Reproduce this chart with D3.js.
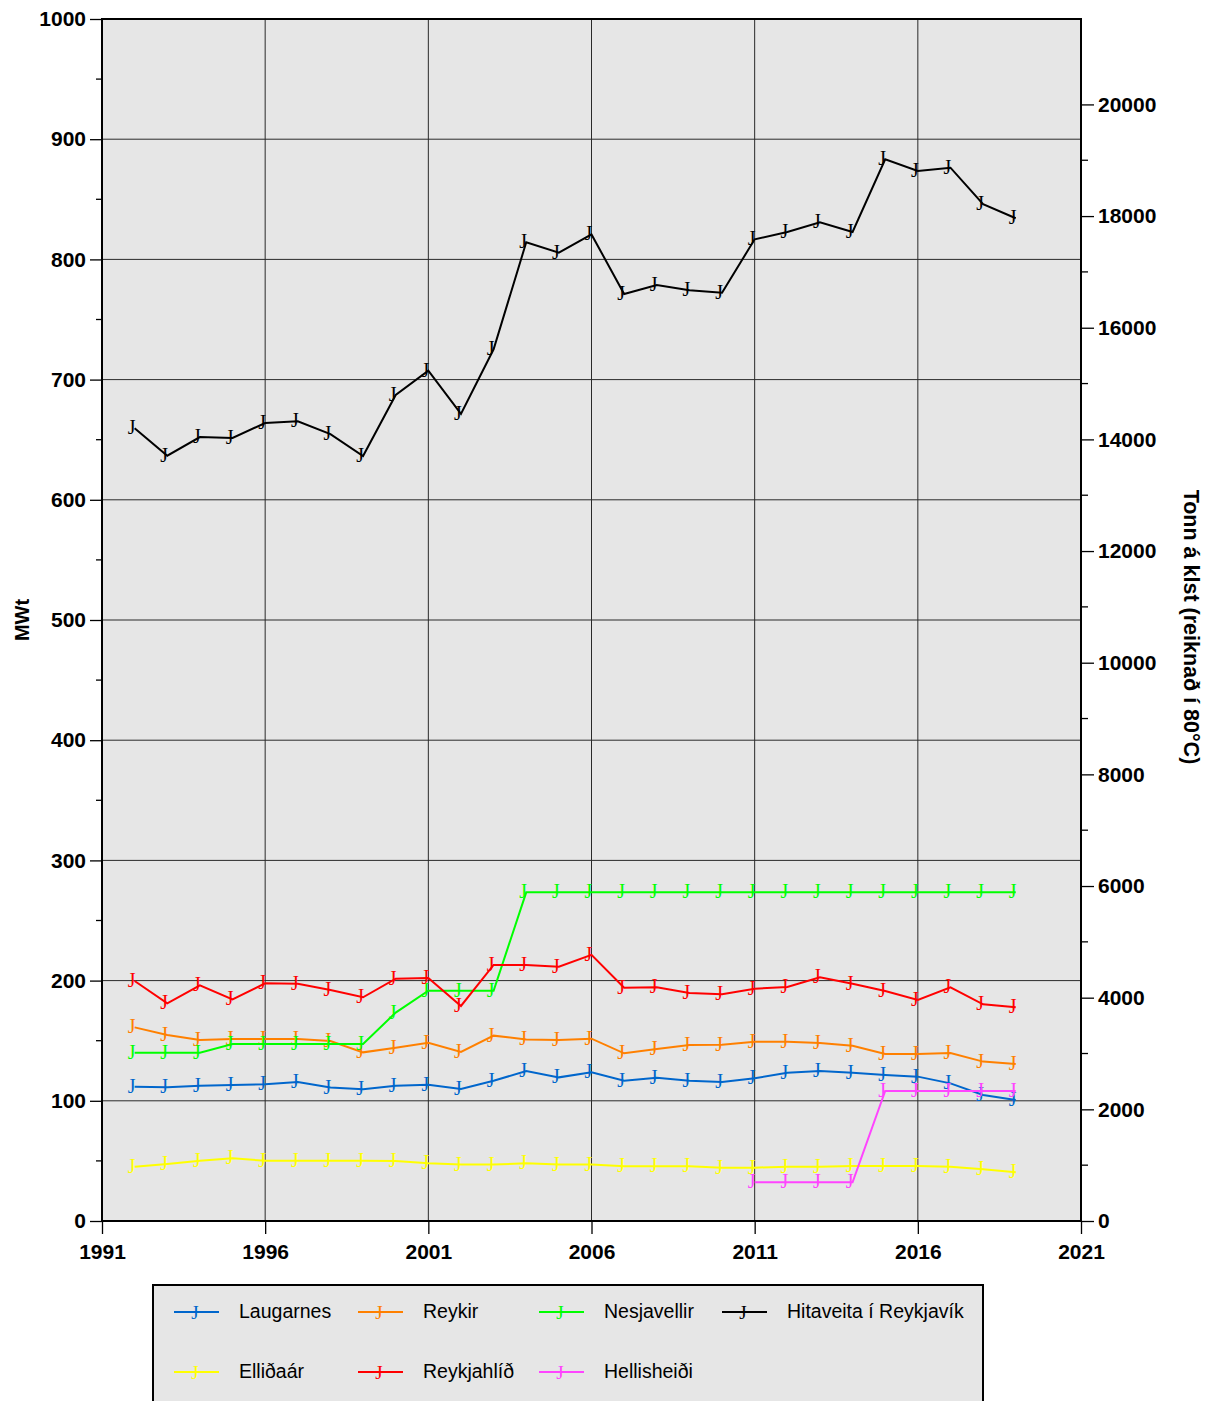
<!DOCTYPE html>
<html>
<head>
<meta charset="utf-8">
<script src="https://cdn.jsdelivr.net/npm/d3@7"></script>
<style>
  html, body { margin: 0; padding: 0; background: #ffffff; }
  svg { display: block; }
</style>
</head>
<body>
<svg id="chart" width="1207" height="1401"></svg>
<script>
// ---------------- DATA ----------------
const years = [1992,1993,1994,1995,1996,1997,1998,1999,2000,2001,2002,2003,2004,2005,2006,2007,2008,2009,2010,2011,2012,2013,2014,2015,2016,2017,2018,2019];

const laugarnes   = [111.7,111.2,112.6,113.1,113.7,115.6,111.0,109.6,112.6,113.4,109.8,116.7,124.8,119.5,123.7,116.7,119.2,116.7,115.6,118.7,123.4,124.8,123.4,121.5,120.1,114.5,104.8,100.7];
const reykir      = [161.1,154.7,150.6,151.4,151.4,151.4,149.8,140.3,144.2,148.3,140.6,154.2,151.1,150.6,151.7,139.5,143.1,146.4,146.7,149.2,149.2,148.1,145.8,138.9,138.9,139.8,132.6,130.6];
const nesjavellir = [140.0,140.0,140.0,147.3,147.3,147.3,147.3,147.3,173.4,191.6,191.6,191.6,273.4,273.4,273.4,273.4,273.4,273.4,273.4,273.4,273.4,273.4,273.4,273.4,273.4,273.4,273.4,273.4];
const hitaveita   = [659.5,636.7,652.2,651.4,663.9,665.3,654.7,636.4,687.2,707.4,671.4,725.2,814.2,805.6,820.8,771.2,778.7,774.3,772.3,816.7,822.8,830.8,822.8,883.3,873.5,876.3,846.0,834.2];
const ellidaar    = [45.2,47.4,50.2,52.1,50.2,50.2,50.2,50.2,50.0,48.0,47.0,47.0,48.0,47.0,47.0,45.5,45.5,45.5,44.4,44.4,45.2,45.2,45.8,45.8,45.8,45.2,43.0,40.5];
const reykjahlid  = [199.7,181.1,196.1,184.4,197.7,197.4,192.2,186.1,201.6,202.2,178.9,213.0,213.0,211.6,221.4,194.1,194.4,189.7,188.6,193.3,194.7,202.7,197.4,191.3,183.9,194.4,180.3,177.8];
const hellisheidi = [null,null,null,null,null,null,null,null,null,null,null,null,null,null,null,null,null,null,null,32.2,32.2,32.2,32.2,108.2,108.2,108.2,108.2,108.2];

const seriesNames  = ["Laugarnes","Reykir","Nesjavellir","Hitaveita í Reykjavík","Elliðaár","Reykjahlíð","Hellisheiði"];
const seriesValues = [laugarnes, reykir, nesjavellir, hitaveita, ellidaar, reykjahlid, hellisheidi];
const seriesColors = ["#0066cc","#ff8000","#00ff00","#000000","#ffff00","#ff0000","#ff44ff"];

const xTicks      = [1991,1996,2001,2006,2011,2016,2021];
const yTicks      = [0,100,200,300,400,500,600,700,800,900,1000];
const yMinorTicks = d3.range(50, 1000, 100);
const y2Ticks     = [0,2000,4000,6000,8000,10000,12000,14000,16000,18000,20000];
const y2MinorTicks= d3.range(1000, 21000, 2000);
const leftTitle   = "MWt";
const rightTitle  = "Tonn á klst (reiknað í 80°C)";

// ---------------- LAYOUT ----------------
const svg = d3.select("#chart");
const L = 102, R = 1081, T = 19, B = 1221;
const x  = d3.scaleLinear().domain([1991, 2021]).range([L, R]);
const y  = d3.scaleLinear().domain([0, 1000]).range([B, T]);
const y2 = d3.scaleLinear().domain([0, 21530]).range([B, T]);

const fontSans = "'Liberation Sans', Arial, Helvetica, sans-serif";
const fontSerif = "'Liberation Serif', 'Times New Roman', serif";

// plot background
svg.append("rect").attr("x", L).attr("y", T).attr("width", R - L).attr("height", B - T).attr("fill", "#e6e6e6");

// gridlines
const grid = svg.append("g");
grid.selectAll("line.h").data(yTicks.filter(d => d > 0 && d < 1000)).enter().append("line")
  .attr("x1", L).attr("x2", R).attr("y1", d => y(d)).attr("y2", d => y(d))
  .attr("stroke", "#2a2a2a").attr("stroke-width", 1);
grid.selectAll("line.v").data(xTicks.filter(d => d > 1991 && d < 2021)).enter().append("line")
  .attr("y1", T).attr("y2", B).attr("x1", d => x(d)).attr("x2", d => x(d))
  .attr("stroke", "#2a2a2a").attr("stroke-width", 1);

// series
const lineGen = d3.line().defined(d => d.v != null).x(d => x(d.year)).y(d => y(d.v));
seriesValues.forEach((vals, i) => {
  const pts = years.map((yr, j) => ({year: yr, v: vals[j]}));
  svg.append("path").datum(pts).attr("d", lineGen)
    .attr("fill", "none").attr("stroke", seriesColors[i]).attr("stroke-width", 2).attr("stroke-linejoin", "miter");
  svg.append("g").selectAll("text").data(pts.filter(d => d.v != null)).enter().append("text")
    .attr("x", d => x(d.year) - 3).attr("y", d => y(d.v) + 6)
    .attr("text-anchor", "middle")
    .attr("font-family", fontSerif).attr("font-size", 20)
    .attr("fill", seriesColors[i])
    .text("J");
});

// frame
svg.append("rect").attr("x", L).attr("y", T).attr("width", R - L).attr("height", B - T)
  .attr("fill", "none").attr("stroke", "#000").attr("stroke-width", 2);

// left axis
const axL = svg.append("g").attr("transform", `translate(${L},0)`)
  .call(d3.axisLeft(y).tickValues(yTicks).tickSize(12).tickPadding(4).tickFormat(d3.format("d")));
axL.select(".domain").remove();
axL.selectAll(".tick line").attr("stroke", "#000").attr("stroke-width", 1.3);
axL.selectAll(".tick text").attr("font-family", fontSans).attr("font-size", 21).attr("font-weight", "bold").attr("fill", "#000");
svg.append("g").selectAll("line").data(yMinorTicks).enter().append("line")
  .attr("x1", L - 6).attr("x2", L).attr("y1", d => y(d)).attr("y2", d => y(d))
  .attr("stroke", "#000").attr("stroke-width", 1.3);

// right axis
const axR = svg.append("g").attr("transform", `translate(${R},0)`)
  .call(d3.axisRight(y2).tickValues(y2Ticks).tickSize(13).tickPadding(4).tickFormat(d3.format("d")));
axR.select(".domain").remove();
axR.selectAll(".tick line").attr("stroke", "#000").attr("stroke-width", 1.3);
axR.selectAll(".tick text").attr("font-family", fontSans).attr("font-size", 21).attr("font-weight", "bold").attr("fill", "#000");
svg.append("g").selectAll("line").data(y2MinorTicks).enter().append("line")
  .attr("x1", R).attr("x2", R + 7).attr("y1", d => y2(d)).attr("y2", d => y2(d))
  .attr("stroke", "#000").attr("stroke-width", 1.3);

// bottom axis
const axB = svg.append("g").attr("transform", `translate(0,${B})`)
  .call(d3.axisBottom(x).tickValues(xTicks).tickSize(13).tickPadding(10).tickFormat(d3.format("d")));
axB.select(".domain").remove();
axB.selectAll(".tick line").attr("stroke", "#000").attr("stroke-width", 1.3);
axB.selectAll(".tick text").attr("font-family", fontSans).attr("font-size", 21).attr("font-weight", "bold").attr("fill", "#000");

// axis titles
svg.append("text").attr("transform", "translate(29,620) rotate(-90)")
  .attr("text-anchor", "middle").attr("font-family", fontSans).attr("font-size", 20).attr("font-weight", "bold")
  .text(leftTitle);
svg.append("text").attr("transform", "translate(1184,627) rotate(90)")
  .attr("text-anchor", "middle").attr("font-family", fontSans).attr("font-size", 21.5).attr("font-weight", "bold")
  .text(rightTitle);

// legend
const lg = svg.append("g");
lg.append("rect").attr("x", 153).attr("y", 1285).attr("width", 830).attr("height", 130)
  .attr("fill", "#e6e6e6").attr("stroke", "#000").attr("stroke-width", 2);
const colX = [174, 358, 539, 722];
const rowY = [1312, 1372];
seriesNames.forEach((name, i) => {
  const cx = colX[i % 4], cy = rowY[Math.floor(i / 4)];
  lg.append("line").attr("x1", cx).attr("x2", cx + 45).attr("y1", cy).attr("y2", cy)
    .attr("stroke", seriesColors[i]).attr("stroke-width", 2);
  lg.append("text").attr("x", cx + 21).attr("y", cy + 7).attr("text-anchor", "middle")
    .attr("font-family", fontSerif).attr("font-size", 19).attr("fill", seriesColors[i]).text("J");
  lg.append("text").attr("x", cx + 65).attr("y", cy + 6)
    .attr("font-family", fontSans).attr("font-size", 19.5).attr("fill", "#000").text(name);
});
</script>
</body>
</html>
